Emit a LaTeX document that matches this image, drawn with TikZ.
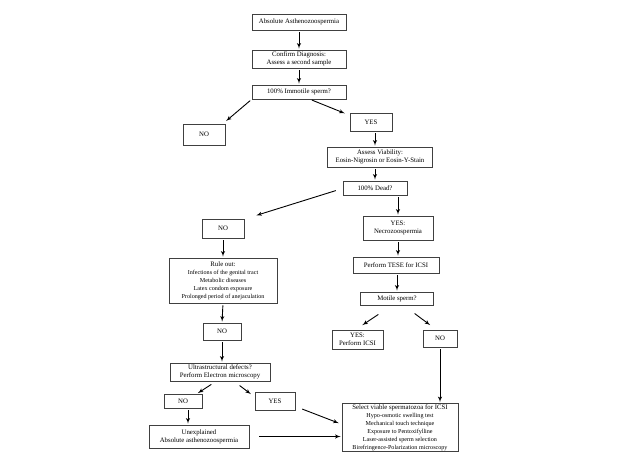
\documentclass[tikz,border=0pt]{standalone}
\usepackage{fontspec}
\setmainfont{Liberation Serif}
\usetikzlibrary{arrows,positioning}
\tikzstyle{etape}=[draw=black!75, line width=0.6pt, fill=white, align=center,
  inner sep=1pt, font=\fontsize{6.8}{8}\selectfont]
\tikzstyle{line} = [draw, line width=0.9pt, color=black, -latex',
  shorten <=2pt, shorten >=1pt]
\newcommand{\etape}[6]{\node (p#1) [etape, minimum width=#4pt,
  minimum height=#5pt] at (#2,#3) {#6};}
\newcommand{\petit}[1]{{\fontsize{6.1}{7.2}\selectfont #1}}

\begin{document}
\begin{tikzpicture}[x=1pt,y=-1pt]
  \useasboundingbox (0,0) rectangle (619,464);

  % Draw diagram elements
  \etape{1}{299}{22}{94}{16}{Absolute Asthenozoospermia}
  \etape{2}{299}{59}{94}{18}{Confirm Diagnosis:\\Assess a second sample}
  \etape{3}{299}{92}{94}{14}{100\% Immotile sperm?}

  \etape{4}{204}{134.5}{42}{21}{NO}
  \etape{5}{371}{122}{42}{18}{YES}
  \etape{6}{380}{157}{105}{20}{Assess Viability:\\Eosin-Nigrosin or Eosin-Y-Stain}
  \etape{7}{375}{188}{64}{14}{100\% Dead?}

  \etape{8}{223}{228.5}{42}{19}{NO}
  \etape{9}{398}{228}{70}{24}{YES:\\Necrozoospermia}
  \etape{10}{223}{280.5}{108}{45}{Rule out:\\ \petit{Infections of the genital tract}\\
    \petit{Metabolic diseases}\\ \petit{Latex condom exposure}\\
    \petit{Prolonged period of anejaculation}}
  \etape{11}{396}{265}{86}{16}{Perform TESE for ICSI}
  \etape{12}{222}{331.5}{38}{17}{NO}
  \etape{13}{397}{298.5}{73}{13}{Motile sperm?}
  \etape{14}{357.5}{339.5}{51}{19}{YES:\\Perform ICSI}
  \etape{15}{440}{338.5}{34}{17}{NO}

  \etape{16}{220}{372}{100}{18}{Ultrastructural defects?\\Perform Electron microscopy}
  \etape{17}{183}{401}{38}{14}{NO}
  \etape{18}{275}{401}{40}{18}{YES}
  \etape{19}{199}{436.5}{100}{23}{Unexplained\\Absolute asthenozoospermia}
  \etape{20}{400}{427.5}{116}{45}{Select viable spermatozoa for ICSI\\
    \petit{Hypo-osmotic swelling test}\\ \petit{Mechanical touch technique}\\
    \petit{Exposure to Pentoxifylline}\\ \petit{Laser-assisted sperm selection}\\
    \petit{Birefringence-Polarization microscopy}}

  % Draw arrows between elements
  \path [line] (p1.south) -- (p2.north);
  \path [line] (p2.south) -- (p3.north);
  \path [line] (p3.south west) -- ([yshift=2pt]p4.north east);
  \path [line] ([xshift=11pt]p3.south) -- ([xshift=-4pt,yshift=-1pt]p5.north west);
  \path [line] (p5.south -| p7) -- (p6.north -| p7);
  \path [line] (p6.south -| p7) -- (p7.north);

  \path [line] ([xshift=-5pt,yshift=-2pt]p7.west) -- ([xshift=11pt,yshift=3pt]p8.north east);
  \path [line] (p7.south -| p9) -- (p9.north);
  \path [line] (p8.south) -- (p10.north);
  \path [line] (p9.south) -- (p9.south |- p11.north);
  \path [line] (p11.south -| p13) -- (p13.north);
  \path [line] (p10.south) -- (p12.north);
  \path [line] (p12.south) -- (p12.south |- p16.north);

  \path [line] ([xshift=-17pt,yshift=-8pt]p13.south) -- ([xshift=4pt,yshift=4pt]p14.north);
  \path [line] ([xshift=16pt,yshift=-7pt]p13.south) -- ([xshift=-9pt,yshift=4pt]p15.north);
  \path [line] (p15.south) -- (p20.north -| p15);

  \path [line] ([xshift=-7pt,yshift=-2pt]p16.south) -- ([xshift=14pt]p17.north);
  \path [line] ([xshift=18pt,yshift=-3pt]p16.south) -- ([xshift=-3pt,yshift=-3pt]p18.north west);
  \path [line] ([xshift=5pt]p17.south) -- ([xshift=-11pt]p19.north);
  \path [line] ([xshift=5pt,yshift=2pt]p18.south east) -- ([xshift=-2pt,yshift=4pt]p20.west);
  \path [line] ([xshift=8pt]p19.east) -- (p20.west |- p19.east);
\end{tikzpicture}
\end{document}
